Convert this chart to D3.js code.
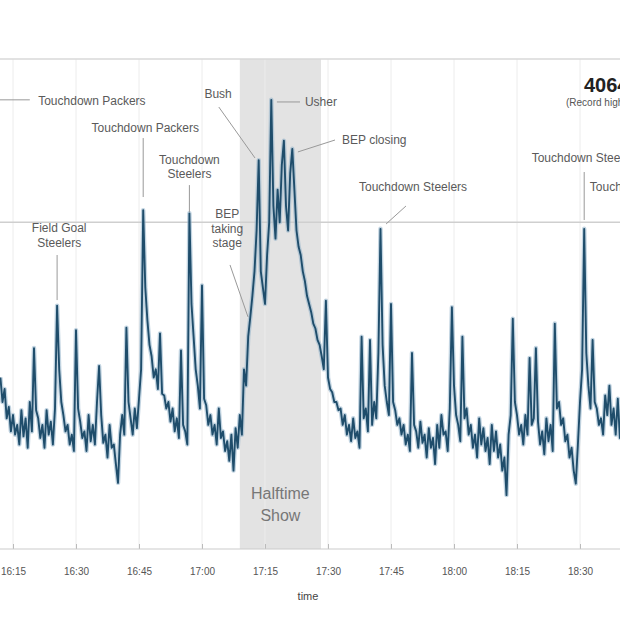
<!DOCTYPE html>
<html><head><meta charset="utf-8">
<script src="https://cdn.jsdelivr.net/npm/d3@7"></script>
<style>
html,body{margin:0;padding:0;background:#fff;}
svg{display:block;font-family:"Liberation Sans",Arial,sans-serif;}
</style></head>
<body>
<svg id="chart" width="620" height="620"></svg>
<script>
// ---- data ----
const seriesStart = "2011-02-06 16:12:00";
const stepSeconds = 30;
const tweetsPerSecond = [
1050,900, 980,800, 870,720, 820,700, 760,640, 850,690, 800,620, 900,720, 1230,850, 800,680,
760,620, 850,700, 780,640, 860,1490, 1100,900, 820,720, 760,640, 700,600, 1340,860, 780,680,
720,600, 820,660, 760,640, 900,1120, 820,650, 700,560, 760,620, 640,520, 405,700, 820,700,
1355,900, 800,700, 860,740, 920,1100, 2074,1600, 1400,1250, 1180,1050, 1100,980, 1320,950, 940,860,
900,780, 860,720, 800,680, 1215,760, 720,640, 2055,1500, 1300,1100, 1000,860, 1613,920, 880,760,
820,700, 760,640, 860,680, 720,600, 660,540, 700,480, 740,620, 820,700, 1100,1000, 1300,1420,
1550,1700, 1950,2380, 1700,1600, 1500,1800, 2000,2750, 2100,1900, 2200,2000, 2350,2500, 2100,1950, 2300,2450,
2200,1950, 1850,1800, 1700,1640, 1550,1500, 1450,1380, 1350,1280, 1250,1180, 1100,1520, 1050,980, 960,900,
900,850, 860,760, 820,700, 760,660, 800,680, 720,620, 1300,800, 860,720, 1280,760, 900,800,
1200,1960, 1250,1000, 900,820, 1500,900, 850,760, 800,700, 760,640, 700,600, 1200,760, 720,620,
780,650, 700,560, 740,620, 680,520, 760,620, 820,700, 720,600, 860,1480, 1000,820, 760,660,
1300,800, 860,700, 760,620, 700,560, 800,640, 740,600, 680,520, 760,600, 720,560, 640,480,
560,330, 700,820, 1410,900, 820,700, 760,640, 820,700, 1170,760, 800,1230, 780,640, 720,580,
800,660, 760,600, 1380,860, 900,760, 800,660, 700,560, 620,480, 400,640, 900,1100, 1960,1200,
1000,860, 1280,900, 860,760, 800,700, 940,820, 1000,760, 860,700, 920,680, 800,660
];
const xDomain = ["2011-02-06 16:15:00", "2011-02-06 18:30:00"];
const yDomain = [0, 3000];
const refLine = 2000;
const topLine = 3000;
const halftime = ["2011-02-06 17:09:00", "2011-02-06 17:28:20"];
const halftimeLabel = ["Halftime", "Show"];
const recordValue = "4064";
const recordNote = "(Record high)";
const annotationLines = [
  ["Touchdown Packers"], ["Touchdown Packers"], ["Touchdown","Steelers"], ["Field Goal","Steelers"],
  ["Bush"], ["Usher"], ["BEP closing"], ["BEP","taking","stage"],
  ["Touchdown Steelers"], ["Touchdown Steelers"], ["Touchdown Steelers"]
];
const annotationTimes = ["16:21:00","16:46:30","16:57:00","16:26:00","17:03:50","17:24:30",
  "17:33:20","17:06:00","17:50:15","18:18:30","18:32:20"];
const annotationValues = [2743, 2578, 2382, 1965, 2786, 2737, 2504, 2051, 2216, 2394, 2216];
const annotationAnchors = ["start","middle","middle","middle","middle","start","start","middle","middle","start","start"];
// leader lines: [time1, value1, time2, value2]
const leaders = [
  ["16:11:50",2750,"16:19:00",2750],
  ["16:46:00",2516,"16:46:00",2155],
  ["16:57:00",2228,"16:57:00",2063],
  ["16:25:30",1800,"16:25:30",1524],
  ["17:04:00",2706,"17:12:37",2394],
  ["17:17:50",2737,"17:23:20",2737],
  ["17:22:50",2431,"17:31:40",2504],
  ["17:06:40",1739,"17:10:57",1421],
  ["17:48:34",2100,"17:43:50",1990],
  ["18:31:00",2308,"18:31:00",2014]
];

// ---- drawing ----
const W = 620, H = 620;
const svg = d3.select("#chart");
const parse = d3.timeParse("%Y-%m-%d %H:%M:%S");
const day = "2011-02-06 ";
const t0 = parse(seriesStart);
const data = tweetsPerSecond.map((v,i)=>({t:new Date(t0.getTime()+i*stepSeconds*1000), v}));

const x = d3.scaleTime().domain(xDomain.map(parse)).range([13, 580]);
const y = d3.scaleLinear().domain(yDomain).range([549, 59]);
const yTop = y(topLine), yBot = y(0);

// halftime shade
svg.append("rect")
  .attr("x", x(parse(halftime[0]))).attr("y", yTop)
  .attr("width", x(parse(halftime[1])) - x(parse(halftime[0])))
  .attr("height", yBot - yTop)
  .attr("fill", "#e3e3e3");

// vertical gridlines
const ticks = x.ticks(d3.timeMinute.every(15));
svg.append("g").selectAll("line").data(ticks).join("line")
  .attr("x1", d=>x(d)).attr("x2", d=>x(d))
  .attr("y1", yTop).attr("y2", yBot)
  .attr("stroke", "#ececec").attr("stroke-width", 1);

// horizontal lines
svg.append("line").attr("x1",0).attr("x2",W).attr("y1",yTop).attr("y2",yTop)
  .attr("stroke","#d9d9d9").attr("stroke-width",1.5);
svg.append("line").attr("x1",0).attr("x2",W).attr("y1",y(refLine)).attr("y2",y(refLine))
  .attr("stroke","#cfcfcf").attr("stroke-width",1.5);

// bottom axis
const axis = d3.axisBottom(x).ticks(d3.timeMinute.every(15))
  .tickFormat(d3.timeFormat("%H:%M")).tickSize(0).tickPadding(0);
const ax = svg.append("g").attr("transform", `translate(0,${yBot})`).call(axis);
ax.select(".domain").remove();
ax.selectAll("text").attr("y", 26).attr("dy", 0).attr("fill","#555").attr("font-size","10px");
svg.append("line").attr("x1",0).attr("x2",W).attr("y1",yBot).attr("y2",yBot)
  .attr("stroke","#cccccc").attr("stroke-width",1.2);
ax.selectAll(".tick").append("line").attr("y1",-5).attr("y2",0).attr("stroke","#bbb");
svg.append("text").attr("x", 308).attr("y", 600).attr("text-anchor","middle")
  .attr("font-size","11px").attr("fill","#444").text("time");

// series
const line = d3.line().x(d=>x(d.t)).y(d=>y(d.v));
svg.append("path").datum(data).attr("d", line)
  .attr("fill","none").attr("stroke","#8fb1c8").attr("stroke-width",4.5)
  .attr("stroke-opacity",0.55).attr("stroke-linejoin","round");
svg.append("path").datum(data).attr("d", line)
  .attr("fill","none").attr("stroke","#1f4d6b").attr("stroke-width",1.9)
  .attr("stroke-linejoin","round");

// leader lines
const tp = s => parse(day + s);
svg.append("g").selectAll("line").data(leaders).join("line")
  .attr("x1", d=>x(tp(d[0]))).attr("y1", d=>y(d[1]))
  .attr("x2", d=>x(tp(d[2]))).attr("y2", d=>y(d[3]))
  .attr("stroke","#999").attr("stroke-width",1);

// annotation labels
const ag = svg.append("g").attr("font-size","12px").attr("fill","#5a5a5a");
annotationLines.forEach((lines,i)=>{
  const ax0 = x(tp(annotationTimes[i]));
  const tx = ag.append("text").attr("x", ax0).attr("y", y(annotationValues[i]) + 4)
    .attr("text-anchor", annotationAnchors[i]);
  lines.forEach((l,j)=>{
    tx.append("tspan").attr("x", ax0).attr("dy", j===0?0:14.5).text(l);
  });
});

// halftime label
const hx = (x(parse(halftime[0])) + x(parse(halftime[1])))/2;
const ht = svg.append("text").attr("x", hx).attr("y", 499).attr("text-anchor","middle")
  .attr("font-size","16px").attr("fill","#777");
halftimeLabel.forEach((l,j)=>ht.append("tspan").attr("x",hx).attr("dy", j?22:0).text(l));

// record
svg.append("text").attr("x", 584).attr("y", 92).attr("font-size","20px")
  .attr("font-weight","bold").attr("fill","#222").text(recordValue);
svg.append("text").attr("x", 566).attr("y", 106).attr("font-size","10px")
  .attr("fill","#555").text(recordNote);
</script>
</body></html>
